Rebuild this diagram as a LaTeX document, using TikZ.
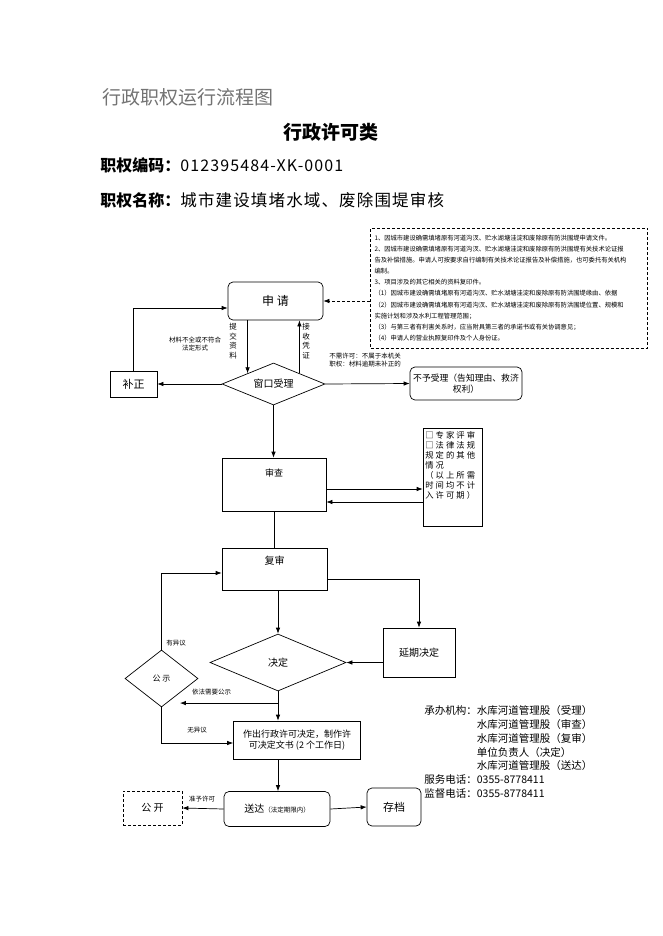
\documentclass[tikz,border=0pt]{standalone}
\usepackage{fontspec}
\setmainfont{Noto Sans CJK SC}
\usetikzlibrary{arrows.meta,shapes.geometric,positioning}

\begin{document}
\begin{tikzpicture}[x=1pt,y=-1pt,line width=0.7pt,>={Latex[length=6pt,width=4.5pt]},
box/.style={draw,inner sep=0pt,align=center},
rbox/.style={box,rounded corners=5pt},
dia/.style={draw,shape=diamond,inner sep=0pt,aspect=2},
dsh/.style={dash pattern=on 3pt off 2pt},
lbl/.style={font=\fontsize{6.5}{8.5}\selectfont,align=center,inner sep=0pt},
vlbl/.style={font=\fontsize{7.5}{9.5}\selectfont,align=center,inner sep=0pt}]
\useasboundingbox(0,0)rectangle(662,936);
\node[anchor=west,text=black!55,font=\fontsize{19}{19}\selectfont,inner sep=0pt](ttl)at(102,97){行政职权运行流程图};
\node[font=\fontsize{19}{19}\selectfont\bfseries,inner sep=0pt](lb)at(331,132){行政许可类};
\node[anchor=west,font=\fontsize{16}{17}\selectfont,inner sep=0pt](bm)at(100,165){\textbf{职权编码：}{\addfontfeature{LetterSpace=7}012395484-XK-0001}};
\node[anchor=west,font=\fontsize{16}{17}\selectfont,inner sep=0pt](mc)at(100,200){\textbf{职权名称：}{\fontsize{16.5}{17}\selectfont\addfontfeature{LetterSpace=7}城市建设填堵水域、废除围堤审核}};
\node[box,dsh,minimum width=277pt,minimum height=120pt,text width=269pt,align=left,font=\fontsize{6.3}{11.1}\selectfont](cl)at(509,288){1、因城市建设确需填堵原有河道沟汊、贮水湖塘洼淀和废除原有防洪围堤申请文件。\\
2、因城市建设确需填堵原有河道沟汊、贮水湖塘洼淀和废除原有防洪围堤有关技术论证报\\
告及补偿措施。申请人可按要求自行编制有关技术论证报告及补偿措施，也可委托有关机构\\
编制。\\
3、项目涉及的其它相关的资料复印件。\\
（1）因城市建设确需填堵原有河道沟汊、贮水湖塘洼淀和废除原有防洪围堤缘由、依据\\
（2）因城市建设确需填堵原有河道沟汊、贮水湖塘洼淀和废除原有防洪围堤位置、规模和\\
实施计划和涉及水利工程管理范围；\\
（3）与第三者有利害关系时，应当附具第三者的承诺书或有关协调意见；\\
（4）申请人的营业执照复印件及个人身份证。};
\node[rbox,minimum width=95pt,minimum height=38pt,font=\fontsize{12}{14}\selectfont](sq)at(275.5,301){申\ 请};
\node[dia,minimum width=103pt,minimum height=42pt,font=\fontsize{10}{12}\selectfont](ckl)at(273.5,384){窗口受理};
\node[box,minimum width=47pt,minimum height=26pt,font=\fontsize{11}{13}\selectfont](bz)at(133.5,384){补正};
\node[rbox,minimum width=112pt,minimum height=33pt,font=\fontsize{8.8}{11}\selectfont](byl)at(466,383.5){不予受理（告知理由、救济\\权利）};
\node[box,minimum width=104pt,minimum height=53pt,label={[anchor=north,yshift=-8pt,font=\fontsize{9}{11}\selectfont]north:审查}](sc)at(274,484.5){};
\node[box,minimum width=59pt,minimum height=98pt](zj)at(452.5,477){};
\node[anchor=north west,align=left,font=\fontsize{8.3}{10}\selectfont\addfontfeature{LetterSpace=25},inner sep=0pt](zjt)at(425,431){□专家评审\\□法律法规\\规定的其他\\情况\\（以上所需\\时间均不计\\入许可期）};
\node[box,minimum width=105pt,minimum height=42pt,label={[anchor=north,yshift=-5pt,font=\fontsize{10}{12}\selectfont]north:复审}](fs)at(274.5,569){};
\node[box,minimum width=72pt,minimum height=49pt,font=\fontsize{10}{12}\selectfont](yq)at(419,652.5){延期决定};
\node[dia,minimum width=136pt,minimum height=57pt,font=\fontsize{10}{12}\selectfont](jd)at(278,662.5){决定};
\node[dia,minimum width=73pt,minimum height=57pt,font=\fontsize{8}{10}\selectfont](gs)at(161.5,678.5){公\ 示};
\node[box,minimum width=127pt,minimum height=38pt,font=\fontsize{9}{11.5}\selectfont](zc)at(297,740){作出行政许可决定，制作许\\可决定文书 (2 个工作日)};
\node[rbox,minimum width=106pt,minimum height=35pt,font=\fontsize{10}{12}\selectfont](sd)at(277,809){送达{\fontsize{6.5}{8}\selectfont（法定期限内）}};
\node[rbox,minimum width=54pt,minimum height=38pt,font=\fontsize{11}{13}\selectfont](cd)at(394,807){存档};
\node[box,dsh,minimum width=59pt,minimum height=34pt,font=\fontsize{10}{12}\selectfont](gk)at(152.5,808){公\ 开};
\node[anchor=north west,inner sep=0pt,font=\fontsize{10.5}{13.7}\selectfont](cb)at(424,705){\begin{tabular}{@{}l@{}l@{}}承办机构：&水库河道管理股（受理）\\&水库河道管理股（审查）\\&水库河道管理股（复审）\\&单位负责人（决定）\\&水库河道管理股（送达）\\服务电话：&0355-8778411\\监督电话：&0355-8778411\end{tabular}};
\draw[->,dsh](sq.east-|cl.west)--(sq.east);
\draw[->](sq.south-|ckl.north west)--(ckl.north west);
\draw[->](ckl.north east)--(ckl.north east|-sq.south);
\node[vlbl](tj)at(233,341){提\\交\\资\\料};
\node[vlbl](js)at(306,341){接\\收\\凭\\证};
\node[lbl](bq)at(195,344){材料不全或不符合\\法定形式};
\draw[->](ckl.west)--(bz.east);
\draw[->](bz.north)|-([yshift=-7pt]sq.west);
\draw[->](ckl.east)--(byl.west);
\node[lbl,align=left](bx)at(365,360){不需许可：不属于本机关\\职权：材料逾期未补正的};
\draw[->](ckl.south)--(ckl.south|-sc.north);
\draw[->]([yshift=-4.5pt]sc.east)--([yshift=-4.5pt]sc.east-|zj.west);
\draw[->]([yshift=-17.5pt]sc.east-|zj.west)--([yshift=-17.5pt]sc.east);
\draw(sc.south)--(sc.south|-fs.north);
\draw[->]([yshift=-10pt]fs.east)-|(yq.north);
\draw[->](jd.north|-fs.south)--(jd.north);
\draw[->](yq.west|-jd.east)--(jd.east);
\draw[->](gs.north)|-([yshift=-4pt]fs.west);
\node[lbl](yy)at(176,643){有异议};
\draw[->](jd.south)--(jd.south|-zc.north);
\path(jd.south)--(jd.south|-zc.north)coordinate[pos=0.4](gsd);
\draw[->](gsd)--(gsd-|gs.south east);
\node[lbl](yf)at(211.5,692){依法需要公示};
\draw[->](gs.south)|-([yshift=-3pt]zc.west);
\node[lbl](wy)at(197,730){无异议};
\draw[->](jd.south|-zc.south)--(jd.south|-sd.north);
\draw[->](sd.east)--(cd.west);
\draw[->](sd.west)--(gk.east);
\node[lbl](zy)at(202,799){准予许可};
\end{tikzpicture}
\end{document}
